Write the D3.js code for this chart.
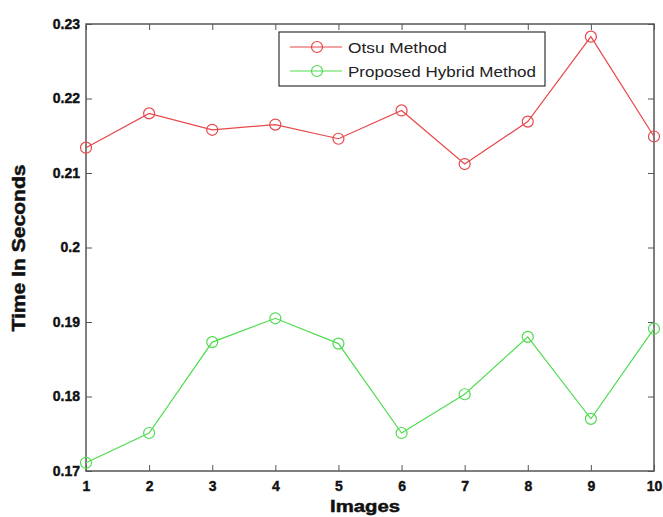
<!DOCTYPE html>
<html>
<head>
<meta charset="utf-8">
<script src="https://cdn.jsdelivr.net/npm/d3@7"></script>
<style>
  body { margin: 0; background: #fff; }
  svg text { font-family: "Liberation Sans", Arial, sans-serif; }
</style>
</head>
<body>
<div id="chart"></div>
<script>
// data
var images = [1, 2, 3, 4, 5, 6, 7, 8, 9, 10];
var otsu = [0.2134, 0.2180, 0.2158, 0.2165, 0.2146, 0.2184, 0.2112, 0.2169, 0.2283, 0.2149];
var hybrid = [0.1711, 0.1751, 0.1873, 0.1905, 0.1871, 0.1751, 0.1803, 0.1880, 0.1770, 0.1891];
var yTicks = [0.17, 0.18, 0.19, 0.2, 0.21, 0.22, 0.23];
var seriesNames = ['Otsu Method', 'Proposed Hybrid Method'];
var seriesColors = ['#e8474a', '#4fdc4f'];

var margin = {top: 24, right: 9, bottom: 46, left: 86},
  width = 663 - margin.left - margin.right,
  height = 517 - margin.top - margin.bottom;

var svg = d3
  .select('#chart')
  .append('svg')
  .attr('width', width + margin.left + margin.right)
  .attr('height', height + margin.top + margin.bottom)
  .append('g')
  .attr('transform', 'translate(' + margin.left + ',' + margin.top + ')');

var x = d3.scaleLinear().domain([1, 10]).range([0, width]);
var y = d3.scaleLinear().domain([0.17, 0.23]).range([height, 0]);

// box with inward ticks on all four sides (matlab style)
svg.append('rect')
  .attr('width', width)
  .attr('height', height)
  .attr('fill', 'none')
  .attr('stroke', '#555')
  .attr('stroke-width', 1.5);

var xAxis = svg.append('g')
  .attr('transform', 'translate(0,' + height + ')')
  .call(d3.axisBottom(x).tickValues(images).tickFormat(d3.format('d')).tickSizeInner(-6).tickSizeOuter(0).tickPadding(10));
var xTop = svg.append('g')
  .call(d3.axisTop(x).tickValues(images).tickFormat('').tickSizeInner(-6).tickSizeOuter(0));
var yAxis = svg.append('g')
  .call(d3.axisLeft(y).tickValues(yTicks).tickFormat(function (d) { return String(+d.toFixed(2)); }).tickSizeInner(-6).tickSizeOuter(0).tickPadding(6));
var yRight = svg.append('g')
  .attr('transform', 'translate(' + width + ',0)')
  .call(d3.axisRight(y).tickValues(yTicks).tickFormat('').tickSizeInner(-6).tickSizeOuter(0));

[xAxis, xTop, yAxis, yRight].forEach(function (a) {
  a.select('.domain').remove();
  a.selectAll('line').attr('stroke', '#555');
  a.selectAll('text')
    .attr('fill', '#111')
    .attr('stroke', '#111')
    .attr('stroke-width', 0.4)
    .style('font-size', '14px')
    .style('font-weight', 'bold');
});

// axis titles
svg.append('text')
  .attr('x', width / 2 - 5)
  .attr('y', height + 41)
  .attr('text-anchor', 'middle')
  .attr('textLength', 70)
  .attr('lengthAdjust', 'spacingAndGlyphs')
  .style('font-size', '17px')
  .style('font-weight', 'bold')
  .attr('fill', '#111')
  .attr('stroke', '#111')
  .attr('stroke-width', 0.5)
  .text('Images');

svg.append('text')
  .attr('transform', 'translate(-61,' + (248 - margin.top) + ') rotate(-90)')
  .attr('text-anchor', 'middle')
  .attr('textLength', 167)
  .attr('lengthAdjust', 'spacingAndGlyphs')
  .style('font-size', '18px')
  .style('font-weight', 'bold')
  .attr('fill', '#111')
  .attr('stroke', '#111')
  .attr('stroke-width', 0.5)
  .text('Time In Seconds');

// lines + circle markers
var series = [otsu, hybrid];
var line = d3.line()
  .x(function (d, i) { return x(images[i]); })
  .y(function (d) { return y(d); });

series.forEach(function (vals, k) {
  svg.append('path')
    .datum(vals)
    .attr('d', line)
    .attr('fill', 'none')
    .attr('stroke', seriesColors[k])
    .attr('stroke-width', 1.2);
  svg.append('g')
    .selectAll('circle')
    .data(vals)
    .enter()
    .append('circle')
    .attr('cx', function (d, i) { return x(images[i]); })
    .attr('cy', function (d) { return y(d); })
    .attr('r', 5.5)
    .attr('fill', 'none')
    .attr('stroke', seriesColors[k])
    .attr('stroke-width', 1.2);
});

// legend
var legendWidths = [99, 188];
var legend = svg.append('g').attr('transform', 'translate(193,8)');
legend.append('rect')
  .attr('width', 266)
  .attr('height', 54)
  .attr('fill', '#fff')
  .attr('stroke', '#333')
  .attr('stroke-width', 1.2);
seriesNames.forEach(function (name, k) {
  var row = legend.append('g').attr('transform', 'translate(0,' + (15 + k * 24) + ')');
  row.append('line')
    .attr('x1', 11).attr('x2', 63)
    .attr('stroke', seriesColors[k])
    .attr('stroke-width', 1.2);
  row.append('circle')
    .attr('cx', 38)
    .attr('r', 5.5)
    .attr('fill', 'none')
    .attr('stroke', seriesColors[k])
    .attr('stroke-width', 1.2);
  row.append('text')
    .attr('x', 69)
    .attr('y', 6)
    .attr('textLength', legendWidths[k])
    .attr('lengthAdjust', 'spacingAndGlyphs')
    .style('font-size', '15px')
    .attr('fill', '#222')
    .text(name);
});
</script>
</body>
</html>
